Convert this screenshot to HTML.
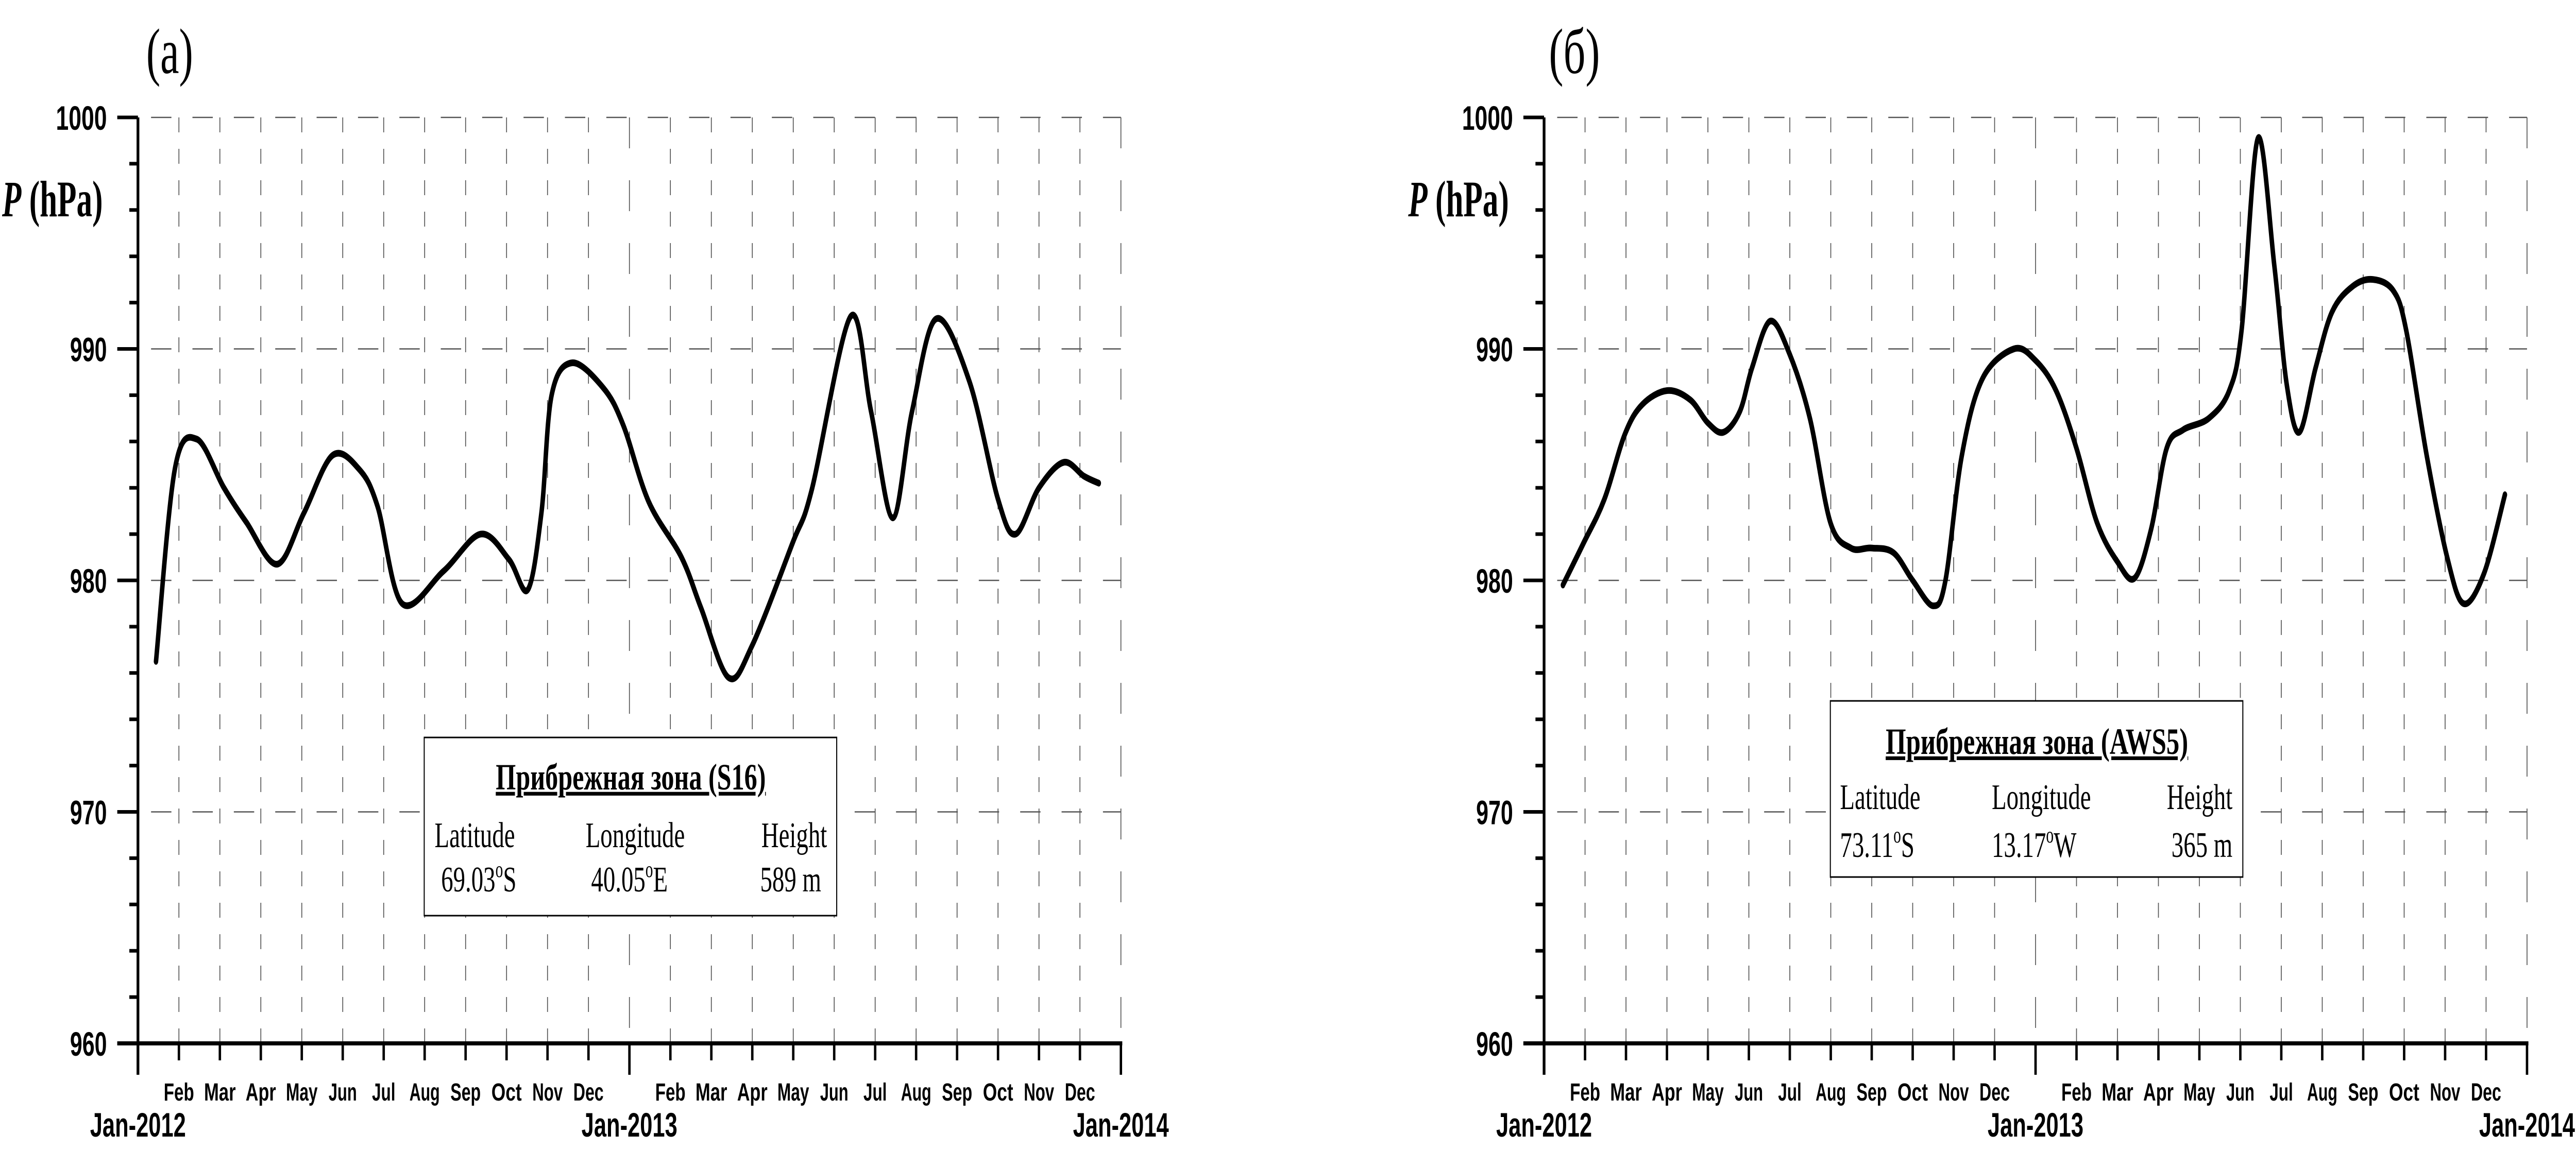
<!DOCTYPE html>
<html><head><meta charset="utf-8"><style>
html,body{margin:0;padding:0;background:#fff;width:100%;height:100%;overflow:hidden;}
svg{display:block;position:absolute;left:0;top:0;width:100vw;height:100vh;}
</style></head><body>
<svg id="chart" xmlns="http://www.w3.org/2000/svg" viewBox="0 0 7469 2235" preserveAspectRatio="none"></svg>
<script>
// ---- data (t = months since Jan-2012, values in hPa) ----
const monthLabels = ["Feb","Mar","Apr","May","Jun","Jul","Aug","Sep","Oct","Nov","Dec"];
const yearLabels = ["Jan-2012","Jan-2013","Jan-2014"];
const yTicks = [960,970,980,990,1000];
const tA = [0.44,0.9,1.44,2.1,2.65,3.4,4.05,4.75,5.4,5.85,6.45,7.46,8.37,9.06,9.52,9.85,10.1,10.6,11.37,11.85,12.47,13.27,13.75,14.42,15.0,15.98,16.45,17.4,17.9,18.43,18.9,19.49,20.3,21.0,21.43,22.0,22.6,23.1,23.46];
const vA = [976.5,984.8,986.1,984.0,982.5,980.7,982.9,985.4,984.8,983.2,979.0,980.4,982.0,980.9,979.6,982.9,988.0,989.4,988.3,986.7,983.4,981.0,978.8,975.8,977.2,981.6,983.9,991.4,987.3,982.7,987.3,991.3,988.6,983.5,982.0,984.0,985.1,984.5,984.2];
const tB = [0.46,0.96,1.47,1.97,2.4,3.01,3.57,4.0,4.38,4.78,5.08,5.52,5.99,6.49,6.99,7.49,7.99,8.53,9.0,9.5,9.8,10.2,10.7,11.47,12.0,12.5,13.0,13.5,14.0,14.42,14.82,15.2,15.6,16.23,16.73,17.03,17.43,17.83,18.13,18.44,18.84,19.24,19.74,20.24,20.74,21.05,21.55,22.05,22.45,22.95,23.46];
const vB = [979.8,981.6,983.5,986.3,987.6,988.2,987.8,986.8,986.4,987.3,989.2,991.2,989.8,987.0,982.5,981.4,981.4,981.2,980.0,978.9,980.0,985.4,988.7,990.0,989.5,988.2,985.7,982.5,980.8,980.1,982.2,985.7,986.5,987.0,988.2,990.8,999.1,993.6,988.5,986.4,989.2,991.6,992.7,993.0,992.5,990.8,985.4,981.0,979.0,980.3,983.7];

const NS = "http://www.w3.org/2000/svg";
const svg = document.getElementById('chart');
function el(tag, attrs, parent){
  const e = document.createElementNS(NS, tag);
  for (const k in attrs) e.setAttribute(k, attrs[k]);
  (parent||svg).appendChild(e);
  return e;
}
const Y0 = 2026, Y1 = 228; // 960 and 1000
function yScale(v){ return Y0 - (v-960)/40*(Y0-Y1); }

function smoothPath(pts){
  let d = "M"+pts[0][0].toFixed(1)+","+pts[0][1].toFixed(1);
  for (let i=0;i<pts.length-1;i++){
    const p0 = pts[i-1]||pts[i], p1=pts[i], p2=pts[i+1], p3=pts[i+2]||pts[i+1];
    const c1x=p1[0]+(p2[0]-p0[0])/6, c1y=p1[1]+(p2[1]-p0[1])/6;
    const c2x=p2[0]-(p3[0]-p1[0])/6, c2y=p2[1]-(p3[1]-p1[1])/6;
    d += " C"+c1x.toFixed(1)+","+c1y.toFixed(1)+" "+c2x.toFixed(1)+","+c2y.toFixed(1)+" "+p2[0].toFixed(1)+","+p2[1].toFixed(1);
  }
  return d;
}

function panel(ox, tArr, vArr, opts){
  const g = el('g', {});
  
  
  const AX = ox, END = ox + 2850;
  const mw = (END-AX)/24;
  function xScale(t){ return AX + t*mw; }
  for (let m=1;m<=24;m++){
    const x = xScale(m);
    const big = (m===12||m===24);
    const ln = el('line',{x1:x,y1:Y1,x2:x,y2:Y0,stroke:'#555','stroke-width':2.5,'stroke-dasharray':big?'60 62':'29 32'},g);
    
    
  }
  yTicks.forEach(v=>{ if(v===960) return;
    const y=yScale(v);
    const ln = el('line',{x1:AX+8,y1:y,x2:END,y2:y,stroke:'#555','stroke-width':2.5,'stroke-dasharray':'59 61','stroke-dashoffset':'-30'},g);
    
    
  });
  const ya = el('line',{x1:AX,y1:Y1,x2:AX,y2:Y0+61,stroke:'#000','stroke-width':8},g);
  
  
  const xa = el('line',{x1:AX-60,y1:Y0,x2:END+4,y2:Y0,stroke:'#000','stroke-width':8},g);
  
  
  for (let v=960; v<=1000; v+=2){
    const y=yScale(v); const major = (v%10===0);
    const tk = el('line',{x1:AX-(major?60:25),y1:y,x2:AX,y2:y,stroke:'#000','stroke-width':7},g);
    
    
  }
  yTicks.forEach(v=>{
    const t = el('text',{x:AX-90,y:yScale(v)+24,'text-anchor':'end','font-family':'Liberation Sans Narrow, Liberation Sans, sans-serif','font-weight':'bold','font-size':66,textLength:v===1000?148:107,lengthAdjust:'spacingAndGlyphs'},g);
    t.textContent = v;
    
    
  });
  for (let m=1;m<=24;m++){
    const x=xScale(m); const big=(m===12||m===24);
    const tk = el('line',{x1:x,y1:Y0,x2:x,y2:Y0+(big?61:33),stroke:'#000','stroke-width':7},g);
    
    
  }
  for (let yr=0; yr<2; yr++){
    monthLabels.forEach((lab,i)=>{
      const x = xScale(yr*12+i+1);
      const w = lab==='Jul'?68:(lab==='Jun'?82:(lab==='May'||lab==='Mar'?92:88));
      const t = el('text',{x:x,y:2137,'text-anchor':'middle','font-family':'Liberation Sans Narrow, Liberation Sans, sans-serif','font-weight':'bold','font-size':48,textLength:w,lengthAdjust:'spacingAndGlyphs'},g);
      t.textContent = lab;
      
      
    });
  }
  yearLabels.forEach((lab,i)=>{
    const t = el('text',{x:xScale(i*12),y:2207,'text-anchor':'middle','font-family':'Liberation Sans Narrow, Liberation Sans, sans-serif','font-weight':'bold','font-size':66,textLength:278,lengthAdjust:'spacingAndGlyphs'},g);
    t.textContent = lab;
    
    
  });
  const yt = el('text',{x:AX-394,y:420,'font-family':'Liberation Serif, serif','font-weight':'bold','font-size':100,textLength:292,lengthAdjust:'spacingAndGlyphs'},g);
  yt.innerHTML = '<tspan font-style="italic">P</tspan> (hPa)';
  
  
  const pl = el('text',{x:AX+opts.letterDx,y:142,'font-family':'Liberation Serif, serif','font-size':125,textLength:opts.letterW,lengthAdjust:'spacingAndGlyphs'},g);
  pl.textContent = opts.letter;
  
  
  const pts = tArr.map((t,i)=>[xScale(t), yScale(vArr[i])]);
  const c = el('path',{d:smoothPath(pts),fill:'none',stroke:'#000','stroke-width':13,'stroke-linejoin':'round','stroke-linecap':'round'},g);
  
  
  const L = opts.legend;
  const bx = el('rect',{x:AX+830,y:L.top,width:1196,height:L.h,fill:'#fff',stroke:'#000','stroke-width':3},g);
  
  
  const tt = el('text',{x:AX+1429,y:L.top+L.titleDy,'text-anchor':'middle','font-family':'Liberation Serif, serif','font-weight':'bold','font-size':72,'text-decoration':'underline',textLength:L.titleW,lengthAdjust:'spacingAndGlyphs'},g);
  tt.textContent = L.title;
  
  
  const fs = {'font-family':'Liberation Serif, serif','font-size':70};
  const items = [
    [L.c1, L.top+L.r1, 'start', 'Latitude', 'latitude-label'],
    [L.c2, L.top+L.r1, 'start', 'Longitude', 'longitude-label'],
    [L.c3, L.top+L.r1, 'end', 'Height', 'height-label'],
    [L.c1v, L.top+L.r2, 'start', L.lat, 'latitude-value'],
    [L.c2v, L.top+L.r2, 'start', L.lon, 'longitude-value'],
    [L.c3v, L.top+L.r2, 'end', L.ht, 'height-value']
  ];
  items.forEach(it=>{
    const t = el('text',Object.assign({x:AX+it[0],y:it[1],'text-anchor':it[2]},fs),g);
    if (it[3].indexOf('°')>=0){
      const parts = it[3].split('°');
      t.innerHTML = parts[0]+'<tspan dy="-28" font-size="44">o</tspan><tspan dy="28">'+parts[1]+'</tspan>';
    } else t.textContent = it[3];
    
    
  });
}

panel(400, tA, vA, {name:'panel-a', letter:'(a)', letterDx:24, letterW:136,
  legend:{top:1432,h:346,titleDy:101,titleW:783,title:'Прибрежная зона (S16)',r1:213,r2:299,
    c1:860,c2:1298,c3:1998,c1v:879,c2v:1314,c3v:1981,lat:'69.03°S',lon:'40.05°E',ht:'589 m'}});
panel(4477, tB, vB, {name:'panel-b', letter:'(б)', letterDx:14, letterW:148,
  legend:{top:1361,h:342,titleDy:103,titleW:877,title:'Прибрежная зона (AWS5)',r1:210,r2:303,
    c1:858,c2:1298,c3:1996,c1v:858,c2v:1298,c3v:1996,lat:'73.11°S',lon:'13.17°W',ht:'365 m'}});
</script>
</body></html>
